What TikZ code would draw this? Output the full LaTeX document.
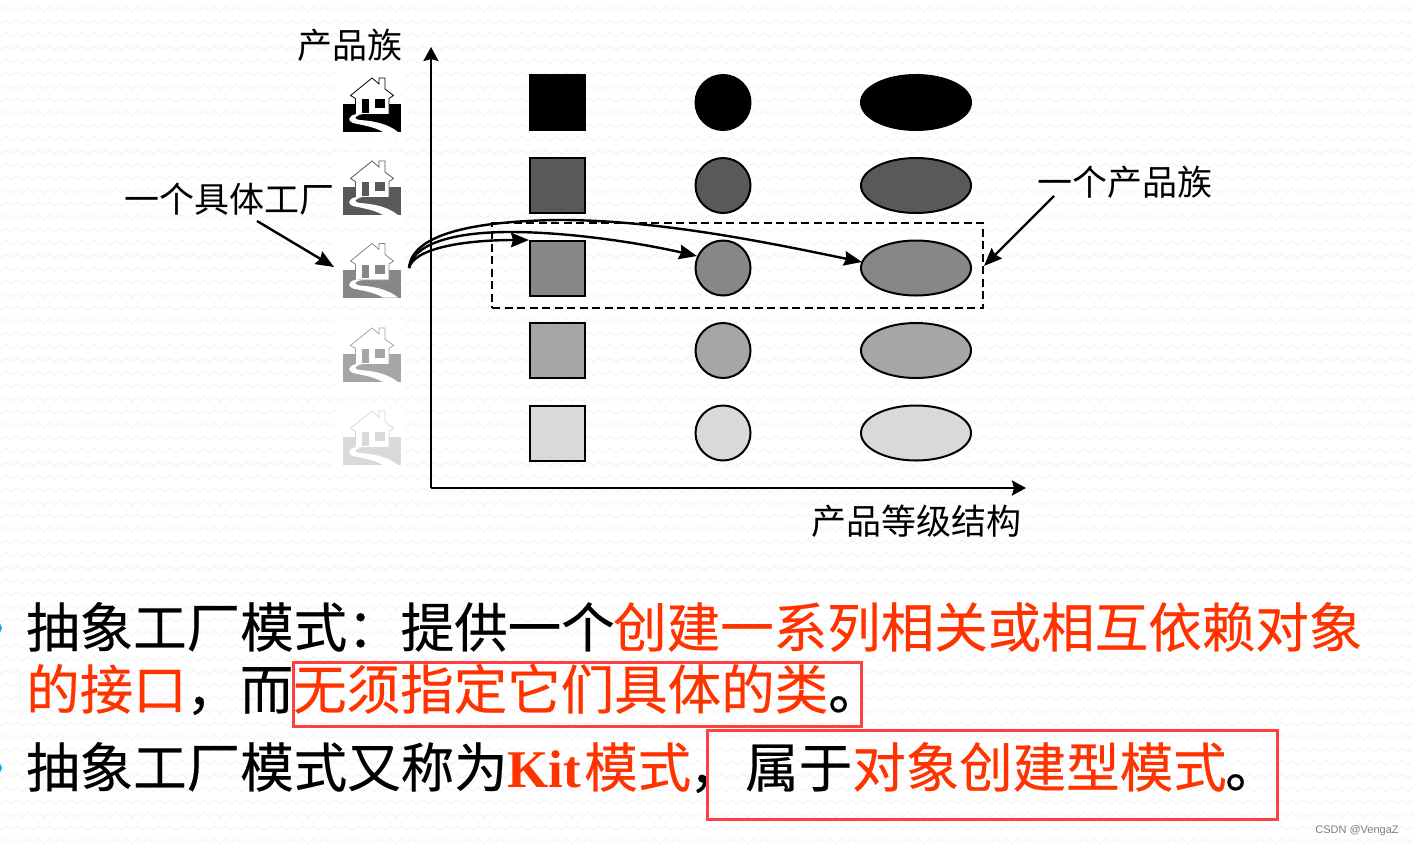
\documentclass[tikz,border=0pt]{standalone}
\usepackage{fontspec}
\setmainfont{Noto Sans CJK SC}
\newfontfamily\heavycjk[FakeBold=0.35]{Noto Sans CJK SC}
\newfontfamily\latinserif{Liberation Serif}
\newfontfamily\latinsans{Liberation Sans}
\usetikzlibrary{arrows.meta,patterns}
\definecolor{redtxt}{HTML}{FF3300}
\definecolor{redbox}{HTML}{FF4040}
\definecolor{waveink}{HTML}{F3F3F3}
\pgfdeclarepatternformonly{bgwaves}{\pgfqpoint{-1pt}{-1pt}}{\pgfqpoint{12pt}{14pt}}{\pgfqpoint{11pt}{13pt}}{
  \pgfsetlinewidth{1pt}
  \pgfpathmoveto{\pgfqpoint{0pt}{4pt}}
  \pgfpathlineto{\pgfqpoint{5.5pt}{8pt}}
  \pgfpathlineto{\pgfqpoint{11pt}{4pt}}
  \pgfusepath{stroke}
}
\tikzset{
  x=1pt,y=-1pt,
  big/.style={font=\fontsize{53.5}{53.5}\heavycjk,anchor=west,inner sep=0pt,text height=47pt,text depth=6.5pt},
  small/.style={font=\fontsize{35}{35}\selectfont,anchor=center,inner sep=0pt,text height=31pt,text depth=4pt},
  shapebox/.style={draw=black,line width=2pt,minimum width=55pt,minimum height=55pt,inner sep=0pt,rectangle},
  shapecirc/.style={draw=black,line width=2pt,minimum size=55pt,inner sep=0pt,circle},
  arrowline/.style={line width=2.4pt,-{Stealth[length=18pt,width=14.5pt,inset=2pt]}},
  redframe/.style={draw=redbox,line width=3pt},
  axisline/.style={line width=2.6pt,-{Stealth[length=14pt,width=15pt,inset=2pt]}}
}
\newcommand{\housepic}[2]{%
  \begin{scope}[yshift=-#1pt]
    \fill[#2] (343,104) rectangle (401,132);
    \fill[white,draw=#2,line width=0.8pt] (372,78) -- (379,84) -- (379,78) -- (385,78) -- (385,89) -- (393.5,95.5) -- (389,98.5) -- (389,114.5) -- (355.5,114.5) -- (355.5,98.5) -- (350.5,95.5) -- cycle;
    \fill[#2] (362,99) rectangle (369,112.5);
    \fill[#2] (375,99) rectangle (385,108);
    \fill[white] (362,114.5) .. controls (354,116) and (353,119) .. (360,120)
      .. controls (375,121) and (388,124) .. (398,132) -- (383,132)
      .. controls (375,127) and (362,125) .. (353,123)
      .. controls (347,121) and (348,116) .. (356,114) -- cycle;
  \end{scope}}
\begin{document}
\begin{tikzpicture}
\useasboundingbox (0,0) rectangle (1413,847);
\fill[white] (0,0) rectangle (1413,847);
\fill[pattern=bgwaves,pattern color=waveink] (0,0) rectangle (1413,847);
\fill[white] (335,70) rectangle (405,140);
\fill[white] (335,152) rectangle (405,222);
\fill[white] (335,235) rectangle (405,305);
\fill[white] (335,320) rectangle (405,390);
\fill[white] (335,403) rectangle (405,473);

% axes
\coordinate (origin) at (431,488);
\coordinate (ytip) at (431,47);
\coordinate (xtip) at (1026,488);
\draw[axisline] (origin) -- (ytip);
\draw[axisline] (origin) -- (xtip);

% houses
\housepic{0}{black}
\housepic{83}{black!65}
\housepic{165.5}{black!47}
\housepic{250}{black!35}
\housepic{333}{black!15}
\coordinate (house3) at (334,267);
\coordinate (start) at (409,268);

% shapes
\foreach \n/\yy/\cc in {1/102.5/black,2/185.5/black!65,3/268/black!47,4/350.5/black!35,5/433/black!15}{
  \node[shapebox,fill=\cc] (sq\n) at (557.5,\yy) {};
  \node[shapecirc,fill=\cc] (ci\n) at (723,\yy) {};
  \fill[\cc,draw=black,line width=2pt] (916,\yy) ellipse [x radius=55pt,y radius=27.5pt];
  \coordinate (el\n) at (860,\yy);
}

% dashed family box
\node[draw,line width=2pt,dash pattern=on 8pt off 4.5pt,minimum width=491pt,minimum height=85pt,inner sep=0pt] (family) at (737.5,265.5) {};

% curves
\coordinate (sqin) at (529,240);
\coordinate (ciin) at (697,256);
\coordinate (elin) at (862,262);
\draw[arrowline] (start) .. controls (414,248) and (465,240) .. (sqin);
\draw[arrowline] (start) .. controls (413,245) and (450,232) .. (510,232) .. controls (570,232) and (640,243) .. (ciin);
\draw[arrowline] (start) .. controls (412,235) and (470,221) .. (560,220) .. controls (660,220) and (770,243) .. (elin);

% labels
\node[small] (lfamily) at (349.5,45) {产品族};
\node[small] (lfactory) at (229.5,199) {一个具体工厂};
\node[small] (lone) at (1124.5,182) {一个产品族};
\node[small] (lgrade) at (916,521) {产品等级结构};
\coordinate (factoryfrom) at (257,221);
\coordinate (onefrom) at (1054,196);
\coordinate (familyright) at (984,266);
\draw[arrowline] (factoryfrom) -- (house3);
\draw[arrowline] (onefrom) -- (familyright);

% bullets
\fill[cyan] (-3,628) circle (5pt);
\fill[cyan] (-3,768) circle (5pt);

% text
\node[big] (t1a) at (26,627) {抽象工厂模式：提供一个};
\node[big,text=redtxt] (t1b) at (613,627) {创建一系列相关或相互依赖对象};
\node[big,text=redtxt] (t2a) at (26,689) {的接口};
\node[big] (t2b) at (186,689) {，而};
\node[big,text=redtxt] (t2c) at (293,689) {无须指定它们具体的类};
\node[big] (t2d) at (828,689) {。};
\node[big] (t3a) at (26,767) {抽象工厂模式又称为};
\node[big,text=redtxt,font=\fontsize{53}{53}\latinserif\bfseries] (t3b) at (507,767) {Kit};
\node[big,text=redtxt] (t3c) at (584,767) {模式};
\node[big] (t3d) at (689,767) {，};
\node[big] (t3e) at (745,767) {属于};
\node[big,text=redtxt] (t3f) at (852,767) {对象创建型模式};
\node[big] (t3g) at (1225,767) {。};

% red frames
\node[redframe,minimum width=568pt,minimum height=64pt,inner sep=0pt] (frameA) at (577.5,694.5) {};
\node[redframe,minimum width=570.5pt,minimum height=88.5pt,inner sep=0pt] (frameB) at (992.25,774.75) {};

\node[font=\fontsize{11}{11}\latinsans,text=black!50,inner sep=0pt] (mark) at (1357,831) {CSDN @VengaZ};
\end{tikzpicture}
\end{document}
